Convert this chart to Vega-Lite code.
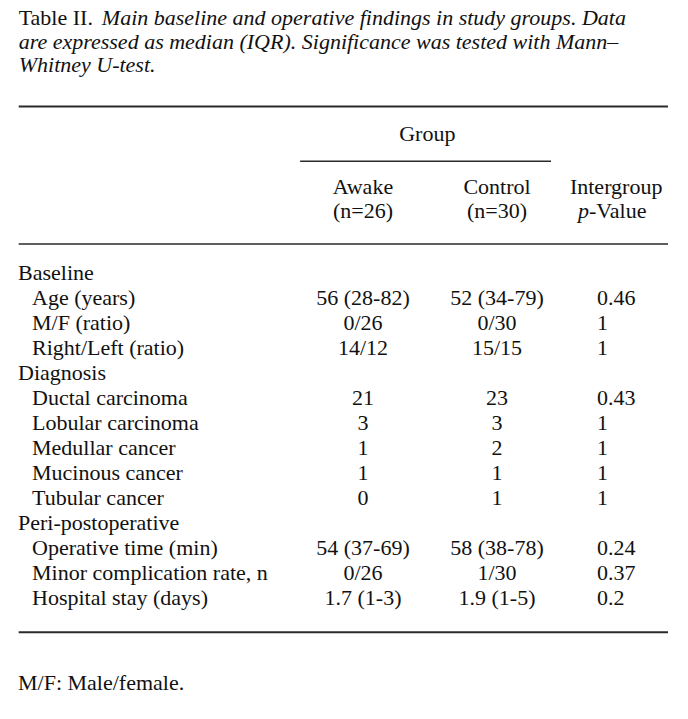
{
  "$schema": "https://vega.github.io/schema/vega-lite/v6.json",
  "width": 688,
  "height": 719,
  "autosize": "none",
  "padding": 0,
  "background": "white",
  "config": {"view": {"stroke": null}, "text": {"font": "Liberation Serif", "fontSize": 22, "color": "#111111", "baseline": "alphabetic"}},
  "datasets": {
    "cells": [
      {"row": 1, "col": 0.05, "text": "Table II.", "kind": "label"},
      {"row": 1, "col": 1.211, "text": "Main baseline and operative findings in study groups. Data", "kind": "caption"},
      {"row": 2, "col": 0.05, "text": "are expressed as median (IQR). Significance was tested with Mann–", "kind": "caption"},
      {"row": 3, "col": 0.05, "text": "Whitney U-test.", "kind": "caption"},
      {"row": 4, "col": 2.48, "text": "Group", "kind": "center"},
      {"row": 5, "col": 2, "text": "Awake", "kind": "center"},
      {"row": 5, "col": 3, "text": "Control", "kind": "center"},
      {"row": 5, "col": 4.27, "text": "Intergroup", "kind": "center"},
      {"row": 6, "col": 2, "text": "(n=26)", "kind": "center"},
      {"row": 6, "col": 3, "text": "(n=30)", "kind": "center"},
      {"row": 6, "col": 3.92, "text": "p", "kind": "italicright"},
      {"row": 6, "col": 3.92, "text": "-Value", "kind": "left"},
      {"row": 7, "col": 0, "text": "Baseline", "kind": "left"},
      {"row": 8, "col": 1, "text": "Age (years)", "kind": "left"},
      {"row": 8, "col": 2, "text": "56 (28-82)", "kind": "center"},
      {"row": 8, "col": 3, "text": "52 (34-79)", "kind": "center"},
      {"row": 8, "col": 4, "text": "0.46", "kind": "left"},
      {"row": 9, "col": 1, "text": "M/F (ratio)", "kind": "left"},
      {"row": 9, "col": 2, "text": "0/26", "kind": "center"},
      {"row": 9, "col": 3, "text": "0/30", "kind": "center"},
      {"row": 9, "col": 4, "text": "1", "kind": "left"},
      {"row": 10, "col": 1, "text": "Right/Left (ratio)", "kind": "left"},
      {"row": 10, "col": 2, "text": "14/12", "kind": "center"},
      {"row": 10, "col": 3, "text": "15/15", "kind": "center"},
      {"row": 10, "col": 4, "text": "1", "kind": "left"},
      {"row": 11, "col": 0, "text": "Diagnosis", "kind": "left"},
      {"row": 12, "col": 1, "text": "Ductal carcinoma", "kind": "left"},
      {"row": 12, "col": 2, "text": "21", "kind": "center"},
      {"row": 12, "col": 3, "text": "23", "kind": "center"},
      {"row": 12, "col": 4, "text": "0.43", "kind": "left"},
      {"row": 13, "col": 1, "text": "Lobular carcinoma", "kind": "left"},
      {"row": 13, "col": 2, "text": "3", "kind": "center"},
      {"row": 13, "col": 3, "text": "3", "kind": "center"},
      {"row": 13, "col": 4, "text": "1", "kind": "left"},
      {"row": 14, "col": 1, "text": "Medullar cancer", "kind": "left"},
      {"row": 14, "col": 2, "text": "1", "kind": "center"},
      {"row": 14, "col": 3, "text": "2", "kind": "center"},
      {"row": 14, "col": 4, "text": "1", "kind": "left"},
      {"row": 15, "col": 1, "text": "Mucinous cancer", "kind": "left"},
      {"row": 15, "col": 2, "text": "1", "kind": "center"},
      {"row": 15, "col": 3, "text": "1", "kind": "center"},
      {"row": 15, "col": 4, "text": "1", "kind": "left"},
      {"row": 16, "col": 1, "text": "Tubular cancer", "kind": "left"},
      {"row": 16, "col": 2, "text": "0", "kind": "center"},
      {"row": 16, "col": 3, "text": "1", "kind": "center"},
      {"row": 16, "col": 4, "text": "1", "kind": "left"},
      {"row": 17, "col": 0, "text": "Peri-postoperative", "kind": "left"},
      {"row": 18, "col": 1, "text": "Operative time (min)", "kind": "left"},
      {"row": 18, "col": 2, "text": "54 (37-69)", "kind": "center"},
      {"row": 18, "col": 3, "text": "58 (38-78)", "kind": "center"},
      {"row": 18, "col": 4, "text": "0.24", "kind": "left"},
      {"row": 19, "col": 1, "text": "Minor complication rate, n", "kind": "left"},
      {"row": 19, "col": 2, "text": "0/26", "kind": "center"},
      {"row": 19, "col": 3, "text": "1/30", "kind": "center"},
      {"row": 19, "col": 4, "text": "0.37", "kind": "left"},
      {"row": 20, "col": 1, "text": "Hospital stay (days)", "kind": "left"},
      {"row": 20, "col": 2, "text": "1.7 (1-3)", "kind": "center"},
      {"row": 20, "col": 3, "text": "1.9 (1-5)", "kind": "center"},
      {"row": 20, "col": 4, "text": "0.2", "kind": "left"},
      {"row": 21, "col": 0, "text": "M/F: Male/female.", "kind": "left"}
    ],
    "rules": [
      {"row": 3.5, "from": 0.05, "to": 5, "weight": "heavy"},
      {"row": 4.38, "from": 1.81, "to": 3.54, "weight": "light"},
      {"row": 6.42, "from": 0.05, "to": 5, "weight": "light"},
      {"row": 20.32, "from": 0.05, "to": 5, "weight": "heavy"}
    ]
  },
  "encoding": {
    "x": {"field": "col", "type": "quantitative", "axis": null, "scale": {"domain": [0, 1, 2, 3, 4, 5], "range": [18, 32, 363, 497, 597, 668], "nice": false, "zero": false}},
    "y": {"field": "row", "type": "quantitative", "axis": null, "scale": {"domain": [1, 3, 4, 5, 6, 7, 20, 21], "range": [25, 72, 141, 194, 218, 280, 605, 690], "nice": false, "zero": false}}
  },
  "layer": [
    {
      "data": {"name": "rules"},
      "mark": {"type": "rule", "color": "#2a2a2a"},
      "encoding": {
        "x": {"field": "from", "type": "quantitative"},
        "x2": {"field": "to"},
        "strokeWidth": {"field": "weight", "type": "nominal", "scale": {"domain": ["heavy", "light"], "range": [2, 1.5]}, "legend": null}
      }
    },
    {
      "data": {"name": "cells"},
      "transform": [{"filter": "datum.kind == 'label' || datum.kind == 'left'"}],
      "mark": {"type": "text", "align": "left"},
      "encoding": {"text": {"field": "text"}}
    },
    {
      "data": {"name": "cells"},
      "transform": [{"filter": "datum.kind == 'caption'"}],
      "mark": {"type": "text", "align": "left", "fontStyle": "italic"},
      "encoding": {"text": {"field": "text"}}
    },
    {
      "data": {"name": "cells"},
      "transform": [{"filter": "datum.kind == 'center'"}],
      "mark": {"type": "text", "align": "center"},
      "encoding": {"text": {"field": "text"}}
    },
    {
      "data": {"name": "cells"},
      "transform": [{"filter": "datum.kind == 'italicright'"}],
      "mark": {"type": "text", "align": "right", "fontStyle": "italic"},
      "encoding": {"text": {"field": "text"}}
    }
  ]
}
